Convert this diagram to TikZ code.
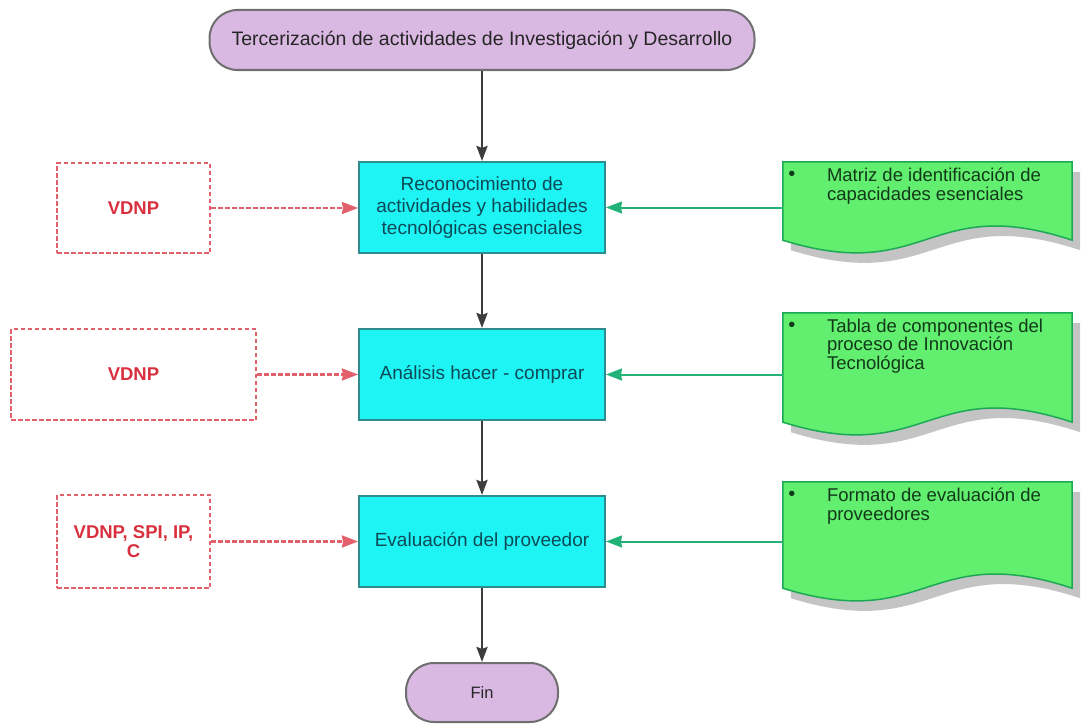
\documentclass[tikz,border=0pt]{standalone}
\usepackage{fontspec}
\setmainfont{Liberation Sans}
\usetikzlibrary{arrows.meta}

\definecolor{termfill}{HTML}{D9B8E2}
\definecolor{termline}{HTML}{6F6F6F}
\definecolor{procfill}{HTML}{1EF4F4}
\definecolor{procline}{HTML}{2F8C8E}
\definecolor{proctext}{HTML}{0C4A57}
\definecolor{docfill}{HTML}{62EE6E}
\definecolor{docline}{HTML}{1CA955}
\definecolor{doctext}{HTML}{123A1A}
\definecolor{docarrow}{HTML}{22B278}
\definecolor{inred}{HTML}{D8303E}
\definecolor{inline}{HTML}{E2606C}
\definecolor{flowgray}{HTML}{3D3D3D}
\definecolor{shadowgray}{HTML}{C4C4C4}

\tikzset{
  term/.style={draw=termline, fill=termfill, line width=2pt, rounded corners=28pt,
    inner sep=0pt, font=\fontsize{19.5}{22}\selectfont, text=black!85},
  proc/.style={draw=procline, fill=procfill, line width=2pt, inner sep=0pt,
    minimum width=246pt, minimum height=91pt, align=center,
    font=\fontsize{19}{22}\selectfont, text=proctext},
  inbox/.style={draw=inline, line width=2.2pt, dash pattern=on 4.5pt off 2.5pt,
    inner sep=0pt, align=center, font=\fontsize{18.5}{19}\selectfont\bfseries, text=inred},
  docarea/.style={inner sep=0pt, minimum width=289pt},
  doclabel/.style={inner sep=0pt, anchor=north west, align=left,
    font=\fontsize{18.5}{18.5}\selectfont, text=doctext},
  docbullet/.style={inner sep=0pt, font=\fontsize{20}{20}\selectfont, text=doctext},
  flow/.style={draw=flowgray, line width=2.5pt,
    -{Stealth[length=15pt,width=11pt,inset=2pt]}},
  inarrow/.style={draw=inline, line width=2.2pt, dash pattern=on 4.5pt off 2.5pt,
    -{Stealth[length=16pt,width=12pt,inset=1pt,fill=inline]}},
  docarr/.style={draw=docarrow, line width=2pt,
    -{Stealth[length=16pt,width=12pt,inset=1pt]}}
}

% outline of a document symbol over a named rectangular area
\newcommand\docoutline[1]{(#1.north west) -- (#1.north east) -- (#1.south east)
  .. controls +(-145,-48) and +(145,45) .. (#1.south west) -- cycle}

\begin{document}
\begin{tikzpicture}[x=1pt, y=-1pt]
\useasboundingbox (0,0) rectangle (1081,725);

% main flow
\node[term, minimum width=545pt, minimum height=60pt] (start) at (482,40)
  {Tercerización de actividades de Investigación y Desarrollo};
\node[proc] (p1) at (482,207.5) {Reconocimiento de\\actividades y habilidades\\tecnológicas esenciales};
\node[proc] (p2) at (482,374.5) {Análisis hacer - comprar};
\node[proc] (p3) at (482,541.5) {Evaluación del proveedor};
\node[term, minimum width=152pt, minimum height=59pt, font=\fontsize{16.5}{18}\selectfont] (fin) at (482,692.5) {Fin};

% inputs on the left
\node[inbox, minimum width=153pt, minimum height=90pt] (i1) at (133.5,208) {VDNP};
\node[inbox, minimum width=245pt, minimum height=91pt] (i2) at (133.5,374.5) {VDNP};
\node[inbox, minimum width=153pt, minimum height=93pt] (i3) at (133.5,541.5) {VDNP, SPI, IP,\\C};

% supporting documents on the right
\node[docarea, minimum height=78pt] (d1) at (927.5,201) {};
\node[docarea, minimum height=109pt] (d2) at (927.5,367.5) {};
\node[docarea, minimum height=106pt] (d3) at (927.5,535) {};

\foreach \d in {d1,d2,d3}{
  \begin{scope}[transform canvas={shift={(8pt,-10pt)}}]
    \fill[shadowgray] \docoutline{\d};
  \end{scope}
  \filldraw[fill=docfill, draw=docline, line width=1.5pt] \docoutline{\d};
}

\node[docbullet] (b1) at ([shift={(9,14)}]d1.north west) {\textbullet};
\node[docbullet] (b2) at ([shift={(9,14)}]d2.north west) {\textbullet};
\node[docbullet] (b3) at ([shift={(9,14)}]d3.north west) {\textbullet};
\node[doclabel] (t1) at ([shift={(44,6)}]d1.north west) {Matriz de identificación de\\capacidades esenciales};
\node[doclabel] (t2) at ([shift={(44,6)}]d2.north west) {Tabla de componentes del\\proceso de Innovación\\Tecnológica};
\node[doclabel] (t3) at ([shift={(44,6)}]d3.north west) {Formato de evaluación de\\proveedores};

% connectors
\draw[flow] (start.south) -- (p1.north);
\draw[flow] (p1.south) -- (p2.north);
\draw[flow] (p2.south) -- (p3.north);
\draw[flow] (p3.south) -- (fin.north);

\draw[inarrow] (i1.east) -- (i1.east -| p1.west);
\draw[inarrow] (i2.east) -- (i2.east -| p2.west);
\draw[inarrow] (i3.east) -- (i3.east -| p3.west);

\draw[docarr] (d1.west |- p1.east) -- (p1.east);
\draw[docarr] (d2.west |- p2.east) -- (p2.east);
\draw[docarr] (d3.west |- p3.east) -- (p3.east);
\end{tikzpicture}
\end{document}
